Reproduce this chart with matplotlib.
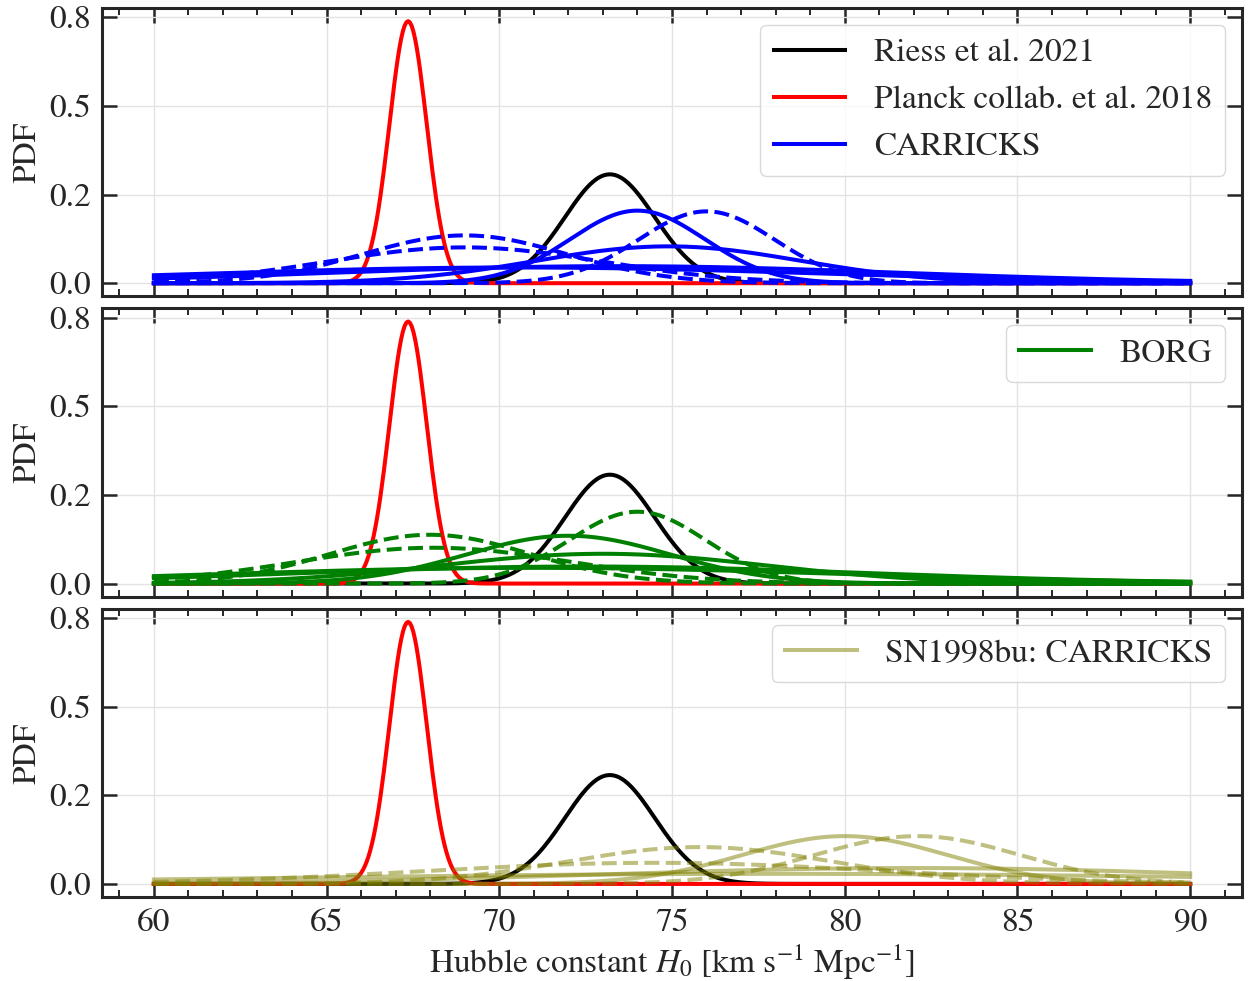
import numpy as np
import matplotlib
matplotlib.use("Agg")
import matplotlib.pyplot as plt
from matplotlib.ticker import MultipleLocator, FormatStrFormatter

plt.rcParams["font.family"] = ["STIXGeneral", "DejaVu Serif"]
plt.rcParams["mathtext.fontset"] = "stix"

# Reference measurements (mean, sigma) of H0 in km/s/Mpc
riess_mu, riess_sigma = 73.2, 1.3
planck_mu, planck_sigma = 67.36, 0.54

# CARRICKS reconstruction: per-case Gaussian posteriors
carricks_solid_mu = [74.0, 74.9, 73.4, 70.5]
carricks_solid_sigma = [1.95, 3.84, 8.3, 9.0]
carricks_dashed_mu = [76.0, 69.0, 69.0]
carricks_dashed_sigma = [1.97, 2.96, 3.95]

# BORG reconstruction
borg_solid_mu = [72.0, 73.0, 72.5, 71.0]
borg_solid_sigma = [2.96, 4.75, 8.3, 9.0]
borg_dashed_mu = [74.0, 68.0, 68.1]
borg_dashed_sigma = [1.97, 2.9, 3.95]

# SN1998bu with CARRICKS
sn_solid_mu = [80.0, 82.0, 78.0]
sn_solid_sigma = [2.96, 8.9, 14.0]
sn_dashed_mu = [82.1, 75.8, 74.5]
sn_dashed_sigma = [2.96, 3.84, 6.7]

x_min, x_max = 60, 90
h0 = np.linspace(x_min, x_max, 600)


def gauss(mu, sigma):
    return np.exp(-0.5 * ((h0 - mu) / sigma) ** 2) / (sigma * np.sqrt(2 * np.pi))


panels = [
    ("CARRICKS", "blue", 1.0, carricks_solid_mu, carricks_solid_sigma,
     carricks_dashed_mu, carricks_dashed_sigma, True),
    ("BORG", "green", 1.0, borg_solid_mu, borg_solid_sigma,
     borg_dashed_mu, borg_dashed_sigma, False),
    ("SN1998bu: CARRICKS", "olive", 0.5, sn_solid_mu, sn_solid_sigma,
     sn_dashed_mu, sn_dashed_sigma, False),
]

fig, axes = plt.subplots(3, 1, figsize=(12.49, 9.81), dpi=100, sharex=True)
fig.subplots_adjust(left=0.0817, right=0.9944, top=0.9918, bottom=0.0856, hspace=0.042)

spine_col = "#262626"
lw = 2.9
fs = 24

for ax, (name, col, alpha, smu, ssig, dmu, dsig, show_refs) in zip(axes, panels):
    ax.plot(h0, gauss(riess_mu, riess_sigma), color="black", lw=lw,
            label="Riess et al. 2021" if show_refs else None)
    ax.plot(h0, gauss(planck_mu, planck_sigma), color="red", lw=lw,
            label="Planck collab. et al. 2018" if show_refs else None)
    for i, (m, s) in enumerate(zip(smu, ssig)):
        ax.plot(h0, gauss(m, s), color=col, alpha=alpha, lw=lw, ls="-",
                label=name if i == 0 else None)
    for m, s in zip(dmu, dsig):
        ax.plot(h0, gauss(m, s), color=col, alpha=alpha, lw=lw, ls="--")

    ax.set_ylabel("PDF", fontsize=fs, color=spine_col, labelpad=5)
    ax.xaxis.set_major_locator(MultipleLocator(5))
    ax.xaxis.set_minor_locator(MultipleLocator(1))
    ax.yaxis.set_major_locator(MultipleLocator(0.25))
    ax.yaxis.set_major_formatter(FormatStrFormatter("%.1f"))
    ax.tick_params(which="both", direction="in", top=True, right=True,
                   colors=spine_col, labelsize=fs)
    ax.tick_params(which="major", length=11, width=1.8)
    ax.tick_params(which="minor", length=5, width=1.4)
    ax.tick_params(axis="x", which="major", pad=8)
    ax.tick_params(axis="y", which="major", pad=8)
    ax.grid(True, color="#e3e3e3", lw=1.0)
    ax.set_axisbelow(True)
    for sp in ax.spines.values():
        sp.set_color(spine_col)
        sp.set_linewidth(2.2)
    leg = ax.legend(loc="upper right", fontsize=fs, handlelength=2.15,
                    handletextpad=0.85, framealpha=0.8, edgecolor="#d0d0d0",
                    labelcolor=spine_col, fancybox=True)
    leg.get_frame().set_linewidth(1.0)

axes[-1].set_xlabel(r"Hubble constant $H_0$ [km s$^{-1}$ Mpc$^{-1}$]",
                    fontsize=fs, color=spine_col)

fig.savefig("out.png", dpi=100)
